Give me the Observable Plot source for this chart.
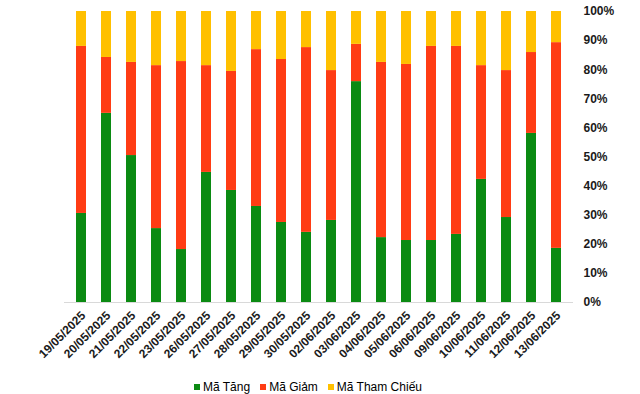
<!DOCTYPE html>
<html>
<head>
<meta charset="utf-8">
<script src="https://cdn.jsdelivr.net/npm/d3@7"></script>
<script src="https://cdn.jsdelivr.net/npm/@observablehq/plot@0.6"></script>
<style>
  html, body { margin: 0; padding: 0; background: #fff; }
  #chart { width: 640px; height: 394px; position: relative; font-family: "Liberation Sans", Arial, sans-serif; }
  #legend { display: flex; justify-content: center; align-items: center; height: 24px; margin-top: 5px; font-size: 12px; color: #000; padding-right: 24px; }
  .item { display: flex; align-items: center; margin: 0 5px; }
  .sw { width: 6px; height: 6px; margin-right: 3px; }
</style>
</head>
<body>
<div id="chart"></div>
<script>
const dates = ["19/05/2025","20/05/2025","21/05/2025","22/05/2025","23/05/2025","26/05/2025","27/05/2025","28/05/2025","29/05/2025","30/05/2025","02/06/2025","03/06/2025","04/06/2025","05/06/2025","06/06/2025","09/06/2025","10/06/2025","11/06/2025","12/06/2025","13/06/2025"];
const maTang = [30.6, 65.0, 50.5, 25.4, 18.2, 44.7, 38.5, 33.0, 27.5, 24.1, 28.2, 75.9, 22.3, 21.3, 21.3, 23.4, 42.3, 29.2, 58.1, 18.6];
const maGiam = [57.4, 19.2, 32.0, 56.0, 64.6, 36.7, 40.9, 53.9, 56.0, 63.5, 51.5, 12.8, 60.2, 60.5, 66.7, 64.6, 39.1, 50.5, 27.8, 70.7];
const maThamChieu = [12.0, 15.8, 17.5, 18.6, 17.2, 18.6, 20.6, 13.1, 16.5, 12.4, 20.3, 11.3, 17.5, 18.2, 12.0, 12.0, 18.6, 20.3, 14.1, 10.7];
const seriesNames = ["Mã Tăng", "Mã Giảm", "Mã Tham Chiếu"];
const seriesColors = ["#0b8a12", "#ff3c14", "#ffc000"];
const yTicks = [0, 10, 20, 30, 40, 50, 60, 70, 80, 90, 100];

const rows = [];
dates.forEach((d, i) => {
  rows.push({date: d, series: seriesNames[0], value: maTang[i]});
  rows.push({date: d, series: seriesNames[1], value: maGiam[i]});
  rows.push({date: d, series: seriesNames[2], value: maThamChieu[i]});
});

const H = 370;
const chart = Plot.plot({
  width: 640,
  height: H,
  marginTop: 11,
  marginBottom: H - 302,
  marginLeft: 64,
  marginRight: 67,
  style: {fontFamily: '"Liberation Sans", Arial, sans-serif', color: "#1a1a1a", background: "#fff"},
  x: {domain: dates, paddingInner: 0.6, paddingOuter: 0.3, label: null},
  y: {domain: [0, 100], label: null},
  color: {domain: seriesNames, range: seriesColors},
  marks: [
    Plot.barY(rows, {x: "date", y: "value", fill: "series", order: seriesNames}),
    Plot.ruleY([0], {stroke: "#d9d9d9", strokeWidth: 1}),
    Plot.axisY({anchor: "right", ticks: yTicks, tickSize: 0, tickPadding: 10, tickFormat: d => d + "%", fontWeight: "bold", fontSize: 12, label: null}),
    Plot.axisX({tickRotate: -45, tickSize: 0, tickPadding: 11, fontWeight: "bold", fontSize: 12, dx: 2, label: null})
  ]
});
document.getElementById("chart").appendChild(chart);

const legend = document.createElement("div");
legend.id = "legend";
seriesNames.forEach((n, i) => {
  const it = document.createElement("div");
  it.className = "item";
  const sw = document.createElement("div");
  sw.className = "sw";
  sw.style.background = seriesColors[i];
  const t = document.createElement("span");
  t.textContent = n;
  it.appendChild(sw);
  it.appendChild(t);
  legend.appendChild(it);
});
document.getElementById("chart").appendChild(legend);
</script>
</body>
</html>
